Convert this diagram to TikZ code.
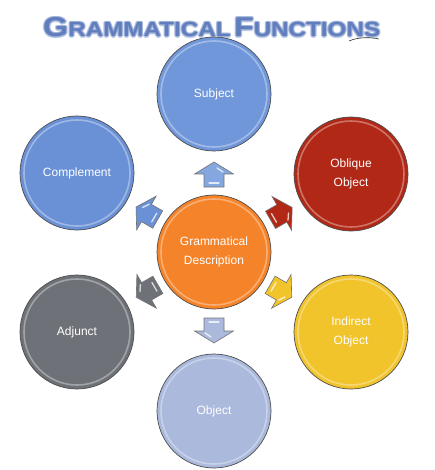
\documentclass[tikz,border=0pt]{standalone}
\usepackage{fontspec}
\setmainfont{Liberation Sans}
\usetikzlibrary{calc}
\definecolor{cSubj}{RGB}{112,151,218}
\definecolor{cComp}{RGB}{106,145,214}
\definecolor{cObl}{RGB}{178,40,22}
\definecolor{cInd}{RGB}{240,196,42}
\definecolor{cObj}{RGB}{170,185,220}
\definecolor{cAdj}{RGB}{110,114,120}
\definecolor{cCen}{RGB}{245,131,42}
\definecolor{cTitle}{RGB}{96,126,190}
\definecolor{cGlow}{RGB}{150,170,212}
\tikzset{
  bubble/.style={circle, minimum size=114pt, inner sep=0pt, draw=black!70,
    line width=0.7pt, text=white, align=center,
    font=\fontsize{12}{19}\selectfont},
  rim/.style={draw=white, draw opacity=0.35, line width=1.6pt},
  blockarrow/.pic={
    \path[pic actions] (-10,12) -- (-10,-1) -- (-19.5,-1) -- (0,-13)
      -- (19.5,-1) -- (10,-1) -- (10,12) -- cycle;
    \draw[white, opacity=0.75, line width=1.3pt, line cap=round] (-5,8) -- (5,8);
    \draw[white, opacity=0.75, line width=1.3pt, line cap=round] (3,-7) -- (9,-3);
  },
  titletext/.style={anchor=base west, inner sep=0pt, font=\bfseries}
}
\newcommand{\titlebox}{\resizebox{337pt}{19pt}{{\fontsize{26}{26}\selectfont G}{\fontsize{19.5}{20}\selectfont RAMMATICAL}\ {\fontsize{26}{26}\selectfont F}{\fontsize{19.5}{20}\selectfont UNCTIONS}}}
\begin{document}
\begin{tikzpicture}[x=1pt, y=-1pt]
\useasboundingbox (0,0) rectangle (434,470);
% title with soft glow
\foreach \dx/\dy in {-1.3/0, 1.3/0, 0/-1.3, 0/1.3, 1/1, -1/-1, 1/-1, -1/1}
  \node[titletext, text=cGlow, opacity=0.55] at (43+\dx,37+\dy) {\titlebox};
\node[titletext, text=cTitle] (title) at (43,37) {\titlebox};
\draw[black!80, line width=0.6pt] (349,41) .. controls (358,37) and (370,37) .. (379,39);
% circles
\node[bubble, fill=cCen] (cen) at (214,252) {Grammatical\\Description};
\node[bubble, fill=cSubj] (subj) at (214,94) {Subject};
\node[bubble, fill=cObl] (obl) at (351,174) {Oblique\\Object};
\node[bubble, fill=cInd] (ind) at (351,332) {Indirect\\Object};
\node[bubble, fill=cObj] (obj) at (214,411) {Object};
\node[bubble, fill=cAdj] (adj) at (77,332) {Adjunct};
\node[bubble, fill=cComp] (comp) at (77,173) {Complement};
\foreach \n in {cen,subj,obl,ind,obj,adj,comp}
  \draw[rim] (\n.center) circle[radius=53];
% arrows
\pic[fill=cSubj!85!white, draw=black!55, line width=0.6pt] at ($(cen)!77pt!(subj)$) {blockarrow};
\pic[fill=cObl, draw=black!55, line width=0.6pt, rotate=-60] at ($(cen)!77pt!(obl)$) {blockarrow};
\pic[fill=cInd, draw=black!55, line width=0.6pt, rotate=-120] at ($(cen)!77pt!(ind)$) {blockarrow};
\pic[fill=cObj, draw=black!55, line width=0.6pt, rotate=180] at ($(cen)!78pt!(obj)$) {blockarrow};
\pic[fill=cAdj, draw=black!55, line width=0.6pt, rotate=120] at ($(cen)!77pt!(adj)$) {blockarrow};
\pic[fill=cComp, draw=black!55, line width=0.6pt, rotate=60] at ($(cen)!77pt!(comp)$) {blockarrow};
\end{tikzpicture}
\end{document}
